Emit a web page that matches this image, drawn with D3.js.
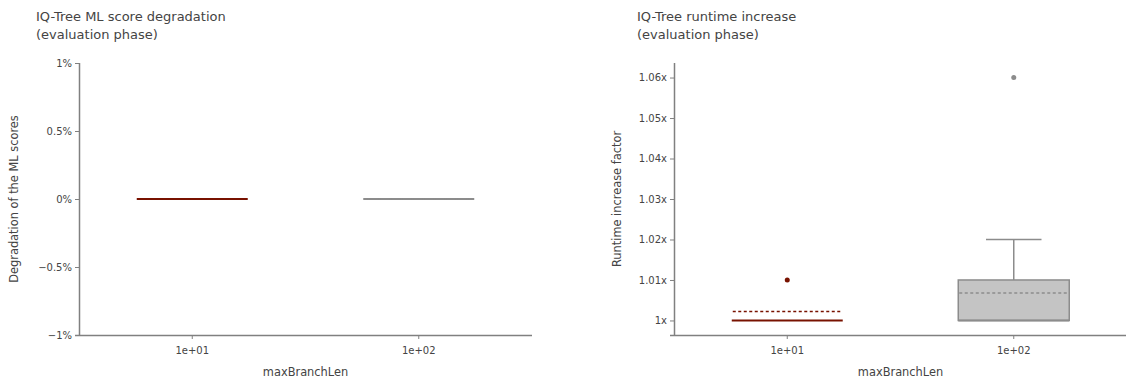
<!DOCTYPE html>
<html>
<head>
<meta charset="utf-8">
<script src="https://cdn.jsdelivr.net/npm/d3@7"></script>
<style>
  html, body { margin: 0; padding: 0; background: #fff; }
  svg { display: block; font-family: "DejaVu Sans", Verdana, sans-serif; }
</style>
</head>
<body>
<svg id="chart" width="1126" height="381"></svg>
<script>
// Categories shared by both panels
const categories = ["1e+01", "1e+02"];
const seriesColors = ["#781200", "#8c8c8c"];
const boxFills = ["#781200", "#c4c4c4"];

// ML score degradation (fraction), box statistics per category
const scoreQ1 = [0, 0];
const scoreMedian = [0, 0];
const scoreQ3 = [0, 0];
const scoreWhiskerLow = [0, 0];
const scoreWhiskerHigh = [0, 0];
const scoreMean = [0, 0];
const scoreOutliers = [[], []];
const scoreTicks = [-0.01, -0.005, 0, 0.005, 0.01];
const scoreTickLabels = ["\u22121%", "\u22120.5%", "0%", "0.5%", "1%"];

// Runtime increase factor, box statistics per category
const runtimeQ1 = [1.0, 1.0];
const runtimeMedian = [1.0, 1.0];
const runtimeQ3 = [1.0, 1.01];
const runtimeWhiskerLow = [1.0, 1.0];
const runtimeWhiskerHigh = [1.0, 1.02];
const runtimeMean = [1.0022, 1.0068];
const runtimeOutliers = [[1.01], [1.06]];
const runtimeTicks = [1.0, 1.01, 1.02, 1.03, 1.04, 1.05, 1.06];
const runtimeTickLabels = ["1x", "1.01x", "1.02x", "1.03x", "1.04x", "1.05x", "1.06x"];

const svg = d3.select("#chart");
const axisColor = "#808080";
const textColor = "#444";
const fontStack = "DejaVu Sans, Verdana, sans-serif";

function buildRows(q1, med, q3, wl, wh, mean, outl) {
  return categories.map((c, i) => ({
    cat: c, i, q1: q1[i], median: med[i], q3: q3[i],
    lo: wl[i], hi: wh[i], mean: mean[i], outliers: outl[i]
  }));
}

function drawPanel(opts) {
  const { left, right, top, bottom, domain, ticks, tickLabels, rows, title, yLabel, yLabelX, titleX } = opts;
  const g = svg.append("g");

  const x = d3.scaleBand().domain(categories).range([left, right]).paddingInner(0).paddingOuter(0);
  const y = d3.scaleLinear().domain(domain).range([bottom, top]);

  // Titles
  const t = g.append("text").attr("x", titleX).attr("y", 21).attr("fill", textColor)
    .style("font-size", "13px");
  title.forEach((line, k) => {
    t.append("tspan").attr("x", titleX).attr("dy", k === 0 ? 0 : 18).text(line);
  });

  // Y axis
  const yAxis = d3.axisLeft(y).tickValues(ticks)
    .tickFormat((d, i) => tickLabels[i]).tickSizeOuter(0).tickSize(4).tickPadding(3);
  const yg = g.append("g").attr("transform", `translate(${left},0)`).call(yAxis)
    .attr("font-family", fontStack).attr("font-size", 10);
  yg.select(".domain").attr("stroke", axisColor).attr("stroke-width", 1.5)
    .attr("d", `M0.5,${top}V${bottom}`);
  yg.selectAll(".tick line").attr("stroke", axisColor);
  yg.selectAll(".tick text").attr("fill", textColor);

  // X axis
  const xAxis = d3.axisBottom(x).tickSizeOuter(0).tickSize(4).tickPadding(8);
  const xg = g.append("g").attr("transform", `translate(0,${bottom})`).call(xAxis)
    .attr("font-family", fontStack).attr("font-size", 10);
  xg.select(".domain").attr("stroke", axisColor).attr("stroke-width", 1.5)
    .attr("d", `M${left - 4},0.5H${right}`);
  xg.selectAll(".tick line").attr("stroke", axisColor);
  xg.selectAll(".tick text").attr("fill", textColor);

  // Axis labels
  g.append("text").attr("x", (left + right) / 2).attr("y", 376)
    .attr("text-anchor", "middle").attr("fill", textColor).style("font-size", "11.4px")
    .text("maxBranchLen");
  g.append("text").attr("transform", `translate(${yLabelX},${(top + bottom) / 2}) rotate(-90)`)
    .attr("text-anchor", "middle").attr("fill", textColor).style("font-size", "11.4px")
    .text(yLabel);

  // Boxes
  const bw = x.bandwidth() * 0.49;
  const boxes = g.append("g").selectAll("g").data(rows).join("g");
  boxes.each(function (d) {
    const b = d3.select(this);
    const cx = x(d.cat) + x.bandwidth() / 2;
    const col = seriesColors[d.i];
    // whiskers
    if (d.hi > d.q3) {
      b.append("line").attr("x1", cx).attr("x2", cx).attr("y1", y(d.q3)).attr("y2", y(d.hi))
        .attr("stroke", col).attr("stroke-width", 1.5);
      b.append("line").attr("x1", cx - bw / 4).attr("x2", cx + bw / 4).attr("y1", y(d.hi)).attr("y2", y(d.hi))
        .attr("stroke", col).attr("stroke-width", 1.5);
    }
    if (d.lo < d.q1) {
      b.append("line").attr("x1", cx).attr("x2", cx).attr("y1", y(d.q1)).attr("y2", y(d.lo))
        .attr("stroke", col).attr("stroke-width", 1.5);
      b.append("line").attr("x1", cx - bw / 4).attr("x2", cx + bw / 4).attr("y1", y(d.lo)).attr("y2", y(d.lo))
        .attr("stroke", col).attr("stroke-width", 1.5);
    }
    // box body
    b.append("rect").attr("x", cx - bw / 2).attr("width", bw)
      .attr("y", y(d.q3)).attr("height", Math.max(0, y(d.q1) - y(d.q3)))
      .attr("fill", boxFills[d.i]).attr("stroke", col).attr("stroke-width", 1.5);
    // median
    b.append("line").attr("x1", cx - bw / 2).attr("x2", cx + bw / 2)
      .attr("y1", y(d.median)).attr("y2", y(d.median))
      .attr("stroke", col).attr("stroke-width", 2);
    // mean (dashed)
    b.append("line").attr("x1", cx - bw / 2 + 1).attr("x2", cx + bw / 2)
      .attr("y1", y(d.mean)).attr("y2", y(d.mean))
      .attr("stroke", col).attr("stroke-width", 1.5).attr("stroke-dasharray", "3,2.5");
    // outliers
    b.selectAll("circle").data(d.outliers).join("circle")
      .attr("cx", cx).attr("cy", v => y(v)).attr("r", 2.5).attr("fill", col);
  });
}

drawPanel({
  left: 79, right: 532, top: 63, bottom: 335,
  domain: [-0.01, 0.01], ticks: scoreTicks, tickLabels: scoreTickLabels,
  rows: buildRows(scoreQ1, scoreMedian, scoreQ3, scoreWhiskerLow, scoreWhiskerHigh, scoreMean, scoreOutliers),
  title: ["IQ-Tree ML score degradation", "(evaluation phase)"],
  yLabel: "Degradation of the ML scores", yLabelX: 18, titleX: 36
});

drawPanel({
  left: 674, right: 1127, top: 63, bottom: 335,
  domain: [0.99641, 1.06359], ticks: runtimeTicks, tickLabels: runtimeTickLabels,
  rows: buildRows(runtimeQ1, runtimeMedian, runtimeQ3, runtimeWhiskerLow, runtimeWhiskerHigh, runtimeMean, runtimeOutliers),
  title: ["IQ-Tree runtime increase", "(evaluation phase)"],
  yLabel: "Runtime increase factor", yLabelX: 621, titleX: 637
});
</script>
</body>
</html>
